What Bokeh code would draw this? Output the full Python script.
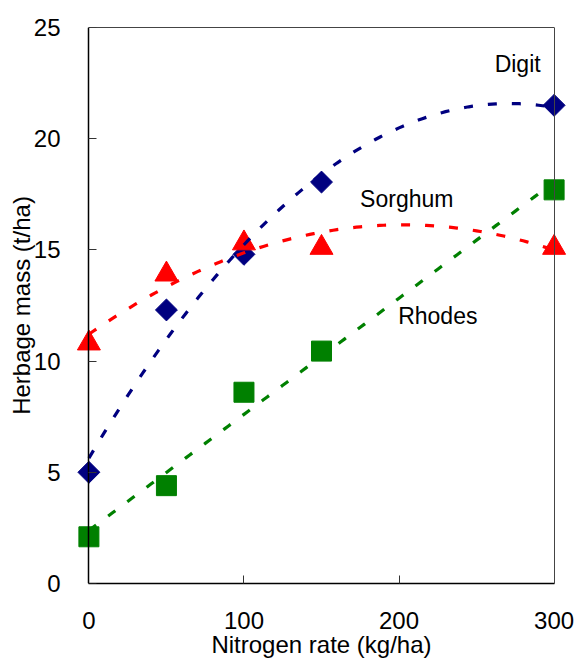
import numpy as np
from bokeh.plotting import figure
from bokeh.models import Range1d, LinearAxis, FixedTicker
from bokeh.embed import file_html
from bokeh.resources import INLINE
from bokeh.core.properties import value

# ---- data ----
nitrogen = [0, 50, 100, 150, 300]
digit = [5.0, 12.3, 14.8, 18.05, 21.5]
sorghum = [10.8, 13.9, 15.3, 15.1, 15.1]
rhodes = [2.1, 4.4, 8.6, 10.45, 17.7]

# trend-line order for each series (Digit, Sorghum: quadratic; Rhodes: linear)
trend_degree = [2, 2, 1]

label_names = ["Digit", "Sorghum", "Rhodes"]
label_x = [276.5, 205, 225]
label_y = [23.35, 17.3, 12.05]

x_ticks = [0, 100, 200, 300]
y_ticks = [0, 5, 10, 15, 20, 25]

x_title = "Nitrogen rate (kg/ha)"
y_title = "Herbage mass (t/ha)"

FONT = "Liberation Sans"
NAVY, RED, GREEN = "#000080", "#FF0000", "#008000"

p = figure(width=576, height=660,
           x_range=Range1d(-8, 308), y_range=Range1d(0, 25),
           output_backend="svg", toolbar_location=None,
           x_axis_location=None, y_axis_location=None,
           min_border_left=76, min_border_right=10,
           min_border_top=27, min_border_bottom=77)
p.grid.visible = False
p.outline_line_color = None
p.background_fill_color = "white"
p.border_fill_color = "white"


def style_labels(ax):
    ax.major_label_text_font = FONT
    ax.major_label_text_font_size = "24px"
    ax.major_label_text_color = "black"
    ax.axis_label_text_font = FONT
    ax.axis_label_text_font_size = "24px"
    ax.axis_label_text_font_style = "normal"
    ax.axis_label_text_color = "black"
    ax.minor_tick_line_color = None


# bottom axis: line, inward ticks, tick labels, title
xaxis = LinearAxis(ticker=FixedTicker(ticks=x_ticks), bounds=(0, 300),
                   axis_label=x_title)
style_labels(xaxis)
xaxis.axis_line_color = "black"
xaxis.axis_line_width = 1.5
xaxis.major_tick_in = 8
xaxis.major_tick_out = 0
xaxis.major_tick_line_color = "#333333"
xaxis.major_label_standoff = 28
xaxis.axis_label_standoff = -1
p.add_layout(xaxis, "below")

# left axis: tick labels + title (line/ticks drawn by the fixed axis at x=0)
ylab = LinearAxis(ticker=FixedTicker(ticks=y_ticks), axis_label=y_title)
style_labels(ylab)
ylab.axis_line_color = None
ylab.major_tick_line_color = None
ylab.major_label_standoff = 10
ylab.axis_label_standoff = -4
p.add_layout(ylab, "left")

yline = LinearAxis(ticker=FixedTicker(ticks=y_ticks), fixed_location=0)
yline.major_label_text_color = None
yline.axis_line_color = "black"
yline.axis_line_width = 1.5
yline.major_tick_in = 8
yline.major_tick_out = 0
yline.major_tick_line_color = "#333333"
yline.minor_tick_line_color = None
p.add_layout(yline, "left")

top = LinearAxis(ticker=FixedTicker(ticks=[]), bounds=(0, 300))
top.axis_line_color = "#444444"
top.axis_line_width = 1
top.minor_tick_line_color = None
p.add_layout(top, "above")

right = LinearAxis(ticker=FixedTicker(ticks=[]), fixed_location=300)
right.axis_line_color = "#444444"
right.axis_line_width = 1
right.minor_tick_line_color = None
p.add_layout(right, "right")

# markers
p.scatter(nitrogen, digit, marker="square", angle=np.pi / 4, size=15.5,
          fill_color=NAVY, line_color=NAVY)
p.scatter(nitrogen, sorghum, marker="triangle", size=23,
          fill_color=RED, line_color=RED)
p.scatter(nitrogen, rhodes, marker="square", size=20,
          fill_color=GREEN, line_color=GREEN)

# trend lines fitted to each series
xs = np.linspace(0, 300, 121)
for ys, color, deg in zip([digit, sorghum, rhodes], [NAVY, RED, GREEN],
                          trend_degree):
    coef = np.polyfit(nitrogen, ys, deg)
    p.line(xs, np.polyval(coef, xs), line_color=color, line_width=3.2,
           line_dash="9 15")

p.text(x=label_x, y=label_y, text=label_names, text_align="center",
       text_baseline="alphabetic", text_font=value(FONT),
       text_font_size="23px", text_color="black")

open("out.html", "w").write(file_html(p, INLINE))
